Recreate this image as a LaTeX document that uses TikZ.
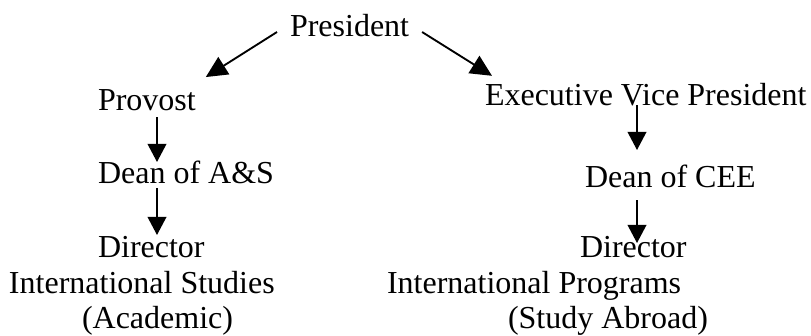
\documentclass[tikz,border=0pt]{standalone}
\usepackage{fontspec}
\setmainfont{Liberation Serif}
\usetikzlibrary{arrows.meta}

\begin{document}
\begin{tikzpicture}[
  x=0.375pt, y=-0.375pt,
  % --- Text styles ---
  lbl/.style={anchor=base west, inner sep=0pt, outer sep=0pt,
    font=\fontsize{12}{14}\selectfont},
  % --- Arrows ---
  flow/.style={-{Triangle[length=6.8pt, width=7pt]}, line width=0.7pt},
  slant/.style={-{Triangle[length=8pt, width=7.6pt]}, line width=0.7pt},
]
\useasboundingbox (0,0) rectangle (811,335);

% ===================== TOP =====================
\node[lbl] (pres) at (290,36) {President};

% ===================== LEFT BRANCH =====================
\node[lbl] (prov)   at (98,110) {Provost};
\node[lbl] (deanas) at (98,183) {Dean of A\&S};
\node[lbl] (dira)   at (98,257) {Director};
\node[lbl] (isa)    at (9,293)  {International Studies};
\node[lbl] (acad)   at (82,328) {(Academic)};

% ===================== RIGHT BRANCH =====================
\node[lbl] (evp)     at (485,105) {Executive Vice President};
\node[lbl] (deancee) at (585,187) {Dean of CEE};
\node[lbl] (dirb)    at (580,257) {Director};
\node[lbl] (ipb)     at (387,293) {International Programs};
\node[lbl] (study)   at (508,328) {(Study Abroad)};

% ================ ARROWS ================
\draw[slant] ([shift={(-13,-4)}]pres.base west) --
  ([shift={(10,-12)}]prov.north east);
\draw[slant] ([shift={(13,-4)}]pres.base east) --
  ([shift={(7,-7)}]evp.north west);

\draw[flow] ([shift={(59,7)}]prov.base west) --
  ([shift={(59,-21)}]deanas.base west);
\draw[flow] ([shift={(59,5)}]deanas.base west) --
  ([shift={(59,-22)}]dira.base west);

\draw[flow] ([shift={(152,0)}]evp.base west) --
  ([shift={(52,-37)}]deancee.base west);
\draw[flow] ([shift={(52,13)}]deancee.base west) --
  ([shift={(57,-14)}]dirb.base west);

\end{tikzpicture}
\end{document}
